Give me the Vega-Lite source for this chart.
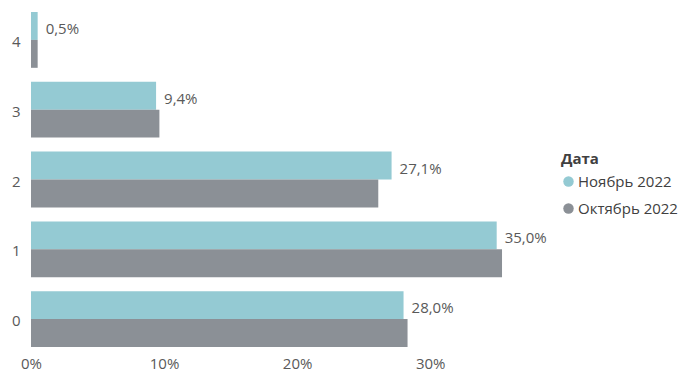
{
  "$schema": "https://vega.github.io/schema/vega-lite/v6.json",
  "width": 479,
  "height": 349,
  "autosize": {"type": "none"},
  "padding": {"left": 31, "top": 5, "right": 171, "bottom": 24},
  "background": "white",
  "config": {
    "locale": {"number": {"decimal": ",", "thousands": " ", "grouping": [3], "currency": ["", " ₽"]}},
    "view": {"stroke": null},
    "font": "Open Sans",
    "axis": {"grid": false, "domain": false, "ticks": false, "labelFont": "Open Sans", "labelFontSize": 15, "labelColor": "#595959"},
    "legend": {"titleFont": "Open Sans", "labelFont": "Open Sans"}
  },
  "data": {"values": [
    {"cat": "4", "date": "Ноябрь 2022", "value": 0.005},
    {"cat": "4", "date": "Октябрь 2022", "value": 0.005},
    {"cat": "3", "date": "Ноябрь 2022", "value": 0.094},
    {"cat": "3", "date": "Октябрь 2022", "value": 0.0965},
    {"cat": "2", "date": "Ноябрь 2022", "value": 0.271},
    {"cat": "2", "date": "Октябрь 2022", "value": 0.261},
    {"cat": "1", "date": "Ноябрь 2022", "value": 0.350},
    {"cat": "1", "date": "Октябрь 2022", "value": 0.354},
    {"cat": "0", "date": "Ноябрь 2022", "value": 0.280},
    {"cat": "0", "date": "Октябрь 2022", "value": 0.283}
  ]},
  "encoding": {
    "y": {"field": "cat", "type": "nominal", "sort": ["4", "3", "2", "1", "0"],
      "scale": {"paddingInner": 0.2, "paddingOuter": 0.1},
      "axis": {"title": null, "labelPadding": 11, "labelAngle": 0, "labelOffset": 2}},
    "yOffset": {"field": "date", "type": "nominal", "sort": ["Ноябрь 2022", "Октябрь 2022"], "scale": {"paddingInner": 0, "paddingOuter": 0}},
    "x": {"field": "value", "type": "quantitative",
      "scale": {"domain": [0, 0.36], "nice": false},
      "axis": {"title": null, "format": ".0%", "values": [0, 0.1, 0.2, 0.3], "labelPadding": 2, "labelFlush": false}}
  },
  "layer": [
    {
      "mark": {"type": "bar"},
      "encoding": {
        "color": {"field": "date", "type": "nominal",
          "scale": {"domain": ["Ноябрь 2022", "Октябрь 2022"], "range": ["#94CAD3", "#8B9096"]},
          "legend": {"title": "Дата", "orient": "none", "legendX": 530, "legendY": 147,
            "symbolType": "circle", "symbolSize": 110, "labelFontSize": 15, "titleFontSize": 15,
            "titleFontWeight": "bold", "titleColor": "#404040", "labelColor": "#404040",
            "rowPadding": 11, "titlePadding": 7, "labelOffset": 2}}
      }
    },
    {
      "transform": [{"filter": "datum.date === 'Ноябрь 2022'"}],
      "mark": {"type": "text", "align": "left", "dx": 8, "dy": 3, "fontSize": 15, "color": "#595959", "font": "Open Sans"},
      "encoding": {
        "text": {"field": "value", "type": "quantitative", "format": ".1%"}
      }
    }
  ]
}
